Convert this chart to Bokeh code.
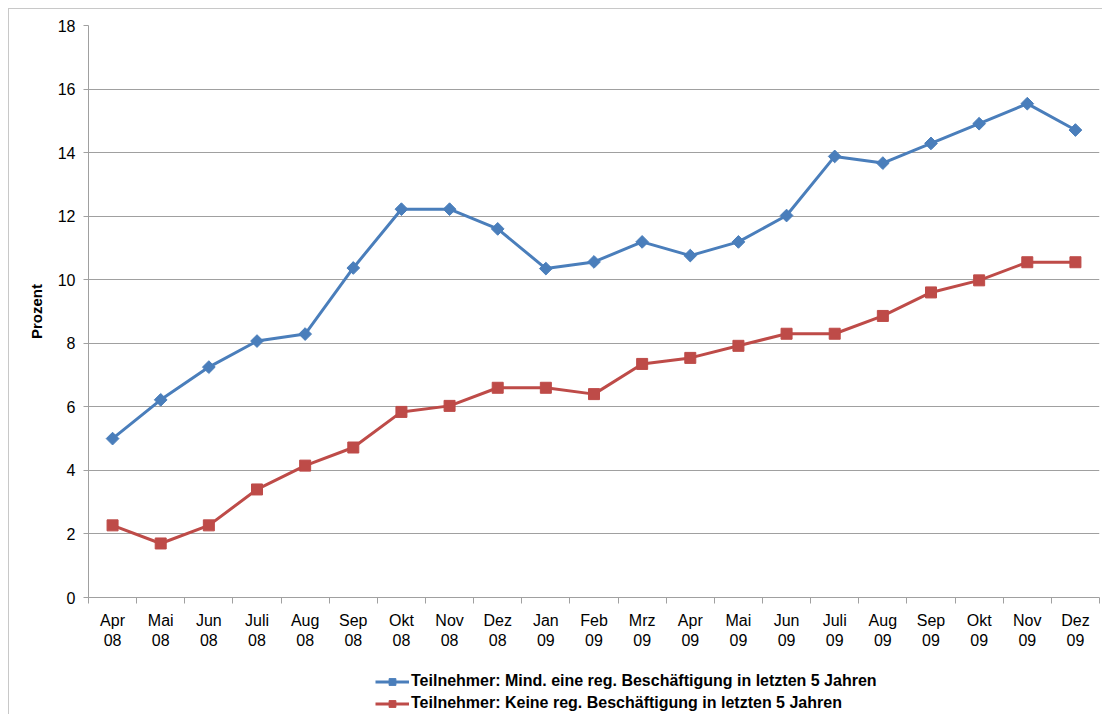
import math
from bokeh.plotting import figure
from bokeh.layouts import column
from bokeh.models import FixedTicker, Legend, LegendItem, Range1d
from bokeh.embed import file_html
from bokeh.resources import INLINE

months = ["Apr\n08", "Mai\n08", "Jun\n08", "Juli\n08", "Aug\n08", "Sep\n08", "Okt\n08",
          "Nov\n08", "Dez\n08", "Jan\n09", "Feb\n09", "Mrz\n09", "Apr\n09", "Mai\n09",
          "Jun\n09", "Juli\n09", "Aug\n09", "Sep\n09", "Okt\n09", "Nov\n09", "Dez\n09"]
mind_eine = [5.0, 6.22, 7.25, 8.07, 8.29, 10.37, 12.22, 12.22, 11.6, 10.35, 10.56, 11.19,
             10.76, 11.19, 12.02, 13.88, 13.67, 14.29, 14.91, 15.54, 14.71]
keine = [2.27, 1.7, 2.27, 3.4, 4.15, 4.72, 5.84, 6.03, 6.6, 6.6, 6.4, 7.35,
         7.54, 7.92, 8.3, 8.3, 8.86, 9.6, 9.98, 10.55, 10.55]
y_ticks = [0, 2, 4, 6, 8, 10, 12, 14, 16, 18]
label_a = "Teilnehmer: Mind. eine reg. Beschäftigung in letzten 5 Jahren"
label_b = "Teilnehmer: Keine reg. Beschäftigung in letzten 5 Jahren"

xs = [i + 0.5 for i in range(len(months))]
FONT = "Liberation Sans"
GRAY = "#A0A0A0"
BORDER = "1px solid #C8C8C8"
blue = "#4A7EBB"
red = "#BE4B48"

p = figure(frame_width=1010, frame_height=571, output_backend="svg", toolbar_location=None,
           x_range=Range1d(0, len(months)), y_range=Range1d(0, 18),
           min_border_left=79, min_border_top=16, min_border_right=4, min_border_bottom=60)
p.styles = {"border-left": BORDER, "border-top": BORDER}
p.outline_line_color = None
p.background_fill_color = "white"
p.border_fill_color = "white"

# grids
p.xgrid.visible = False
p.ygrid.grid_line_color = GRAY
p.ygrid.grid_line_width = 1

# y axis
p.yaxis.ticker = FixedTicker(ticks=y_ticks)
p.yaxis.axis_line_color = GRAY
p.yaxis.major_tick_line_color = GRAY
p.yaxis.major_tick_out = 5
p.yaxis.major_tick_in = 0
p.yaxis.minor_tick_line_color = None
p.yaxis.major_label_text_font = FONT
p.yaxis.major_label_text_font_size = "16px"
p.yaxis.major_label_text_color = "black"
p.yaxis.major_label_standoff = 8
p.yaxis.axis_label = "Prozent"
p.yaxis.axis_label_text_font = FONT
p.yaxis.axis_label_text_font_style = "bold"
p.yaxis.axis_label_text_font_size = "15px"
p.yaxis.axis_label_text_color = "black"
p.yaxis.axis_label_standoff = 10

# x axis
p.xaxis.ticker = FixedTicker(ticks=xs, minor_ticks=list(range(len(months) + 1)))
p.xaxis.major_label_overrides = {x: m for x, m in zip(xs, months)}
p.xaxis.axis_line_color = GRAY
p.xaxis.major_tick_line_color = None
p.xaxis.minor_tick_line_color = GRAY
p.xaxis.minor_tick_out = 6
p.xaxis.minor_tick_in = 0
p.xaxis.major_label_text_font = FONT
p.xaxis.major_label_text_font_size = "16px"
p.xaxis.major_label_text_color = "black"
p.xaxis.major_label_standoff = 8

p.line(xs, mind_eine, line_color=blue, line_width=3)
p.scatter(xs, mind_eine, marker="square", angle=math.pi / 4, size=9,
          fill_color=blue, line_color=blue)
p.line(xs, keine, line_color=red, line_width=3)
p.scatter(xs, keine, marker="square", size=11, fill_color=red, line_color=red)

# legend strip below the chart (its glyphs are kept out of view; only the legend shows)
q = figure(width=1090, height=58, output_backend="svg", toolbar_location=None,
           x_axis_type=None, y_axis_type=None,
           x_range=Range1d(100, 101), y_range=Range1d(100, 101),
           min_border=0)
q.styles = {"border-left": BORDER}
q.outline_line_color = None
q.grid.visible = False
q.background_fill_color = "white"
q.border_fill_color = "white"
ql1 = q.line(xs, mind_eine, line_color=blue, line_width=3)
qs1 = q.scatter(xs, mind_eine, marker="square", angle=math.pi / 4, size=9,
                fill_color=blue, line_color=blue)
ql2 = q.line(xs, keine, line_color=red, line_width=3)
qs2 = q.scatter(xs, keine, marker="square", size=11, fill_color=red, line_color=red)

legend = Legend(items=[LegendItem(label=label_a, renderers=[ql1, qs1]),
                       LegendItem(label=label_b, renderers=[ql2, qs2])],
                location=(287, 2), orientation="vertical",
                label_text_font=FONT, label_text_font_style="bold",
                label_text_color="black", label_text_font_size="16px",
                label_height=17, glyph_height=17, glyph_width=34, label_standoff=2,
                spacing=4, padding=0, margin=0,
                border_line_color=None, background_fill_alpha=0)
q.add_layout(legend, "center")

layout = column(p, q, spacing=0)
layout.styles = {"margin-left": "8px", "margin-top": "8px"}

open("out.html", "w").write(file_html(layout, INLINE))
